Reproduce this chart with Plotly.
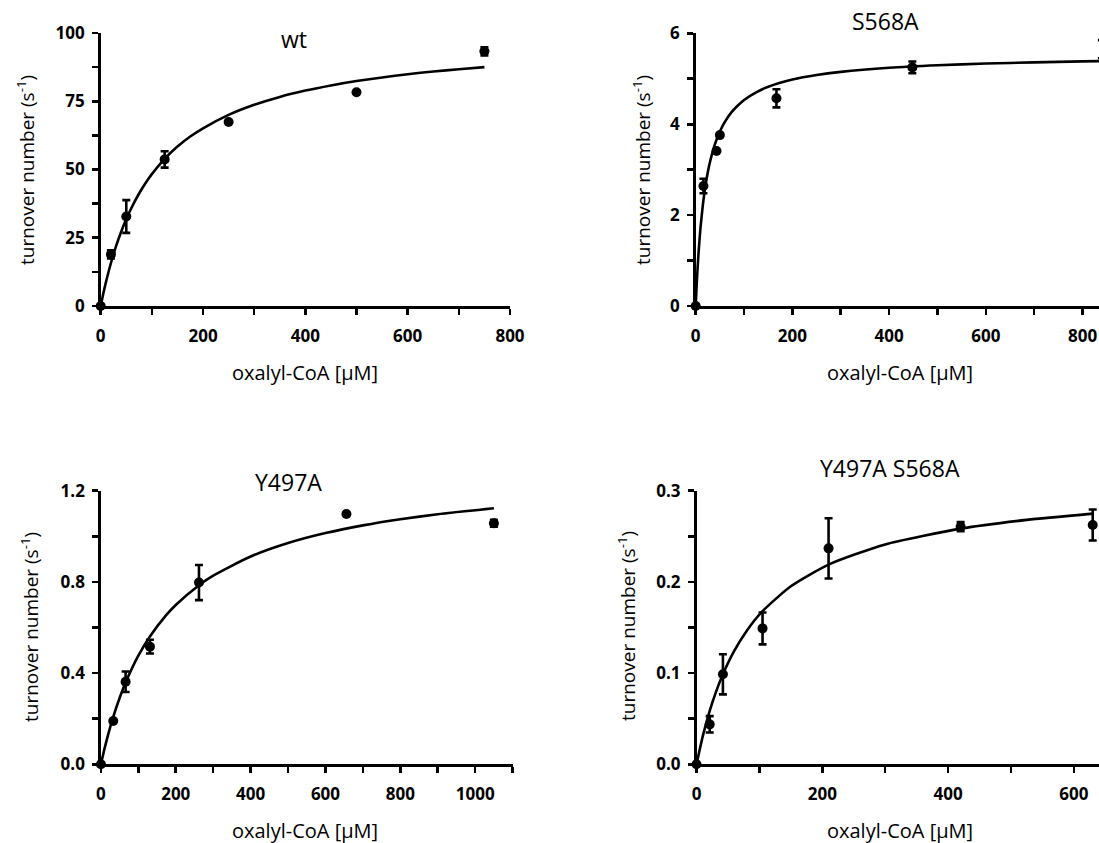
import plotly.graph_objects as go

OFF = 0  # body margin removed by the post script below
W, H = 1099, 843
FONT = "Open Sans"

# ---------------- data ----------------
wt_x = [0, 20, 50, 125, 250, 500, 750]
wt_y = [0, 18.9, 32.8, 53.7, 67.4, 78.3, 93.3]
wt_err = [0, 1.5, 6.0, 3.0, 0, 0, 1.5]
wt_fit_x = [0, 5, 10, 20, 30, 40, 50, 60, 75, 90, 100, 125, 150, 175, 200, 250,
            300, 350, 400, 450, 500, 550, 600, 650, 700, 750]
wt_fit_y = [0, 4.46, 8.55, 15.75, 21.9, 27.2, 31.85, 35.9, 41.2, 45.7, 48.3, 53.9,
            58.4, 62.1, 65.1, 70.0, 73.7, 76.6, 78.9, 80.8, 82.4, 83.7, 84.9,
            85.9, 86.7, 87.5]

s_x = [0, 16, 43, 50, 167, 448, 840]
s_y = [0, 2.64, 3.41, 3.76, 4.57, 5.25, 5.65]
s_err = [0, 0.16, 0, 0, 0.2, 0.13, 0.2]
s_fit_x = [0, 2, 4, 6, 8, 10, 15, 20, 25, 30, 40, 50, 60, 75, 100, 125, 150, 200,
           250, 300, 400, 500, 600, 700, 800, 840]
s_fit_y = [0, 0.461, 0.851, 1.185, 1.475, 1.728, 2.242, 2.633, 2.941, 3.19, 3.568,
           3.84, 4.046, 4.276, 4.533, 4.702, 4.823, 4.982, 5.083, 5.152, 5.242,
           5.297, 5.334, 5.361, 5.382, 5.389]

y_x = [0, 33, 66, 131, 262, 656, 1050]
y_y = [0, 0.19, 0.362, 0.516, 0.797, 1.098, 1.057]
y_err = [0, 0, 0.045, 0.03, 0.077, 0, 0.015]
y_fit_x = [0, 10, 20, 33, 50, 66, 100, 131, 175, 200, 262, 300, 400, 500, 600, 700,
           800, 900, 1050]
y_fit_y = [0, 0.0708, 0.1344, 0.2078, 0.291, 0.3588, 0.4764, 0.5608, 0.655, 0.6987,
           0.7854, 0.8274, 0.9113, 0.9704, 1.0142, 1.048, 1.0749, 1.0967, 1.1229]

d_x = [0, 21, 42, 105, 210, 420, 630]
d_y = [0, 0.0438, 0.0987, 0.149, 0.2368, 0.2605, 0.2624]
d_err = [0, 0.009, 0.022, 0.0175, 0.033, 0.005, 0.017]
d_fit_x = [0, 10, 21, 30, 42, 60, 80, 105, 150, 210, 300, 420, 525, 630]
d_fit_y = [0, 0.0309, 0.0585, 0.0775, 0.0987, 0.1243, 0.1465, 0.1679, 0.1952, 0.219,
           0.2411, 0.2584, 0.268, 0.2749]

titles = ["wt", "S568A", "Y497A", "Y497A S568A"]
x_title = "oxalyl-CoA [µM]"
y_title = "turnover number (s<sup>-1</sup>)"

# ---------------- layout geometry (window pixels) ----------------
panels = [
    dict(x=wt_x, y=wt_y, e=wt_err, fx=wt_fit_x, fy=wt_fit_y,
         px=(100.7, 510), py=(33, 306), xr=[0, 800], yr=[0, 100],
         xdt=200, ydt=25, title_xy=(294, 39), ytit_xy=(26, 170), xtit_xy=(305, 372)),
    dict(x=s_x, y=s_y, e=s_err, fx=s_fit_x, fy=s_fit_y,
         px=(695.7, 1099), py=(33.3, 306), xr=[0, 834], yr=[0, 6],
         xdt=200, ydt=2, title_xy=(885, 21), ytit_xy=(642, 170), xtit_xy=(900, 372)),
    dict(x=y_x, y=y_y, e=y_err, fx=y_fit_x, fy=y_fit_y,
         px=(100.9, 512.6), py=(490.7, 764.3), xr=[0, 1100], yr=[0, 1.2],
         xdt=200, ydt=0.4, title_xy=(288, 482), ytit_xy=(30, 627), xtit_xy=(305, 830)),
    dict(x=d_x, y=d_y, e=d_err, fx=d_fit_x, fy=d_fit_y,
         px=(696.5, 1099), py=(490.7, 764.3), xr=[0, 640], yr=[0, 0.3],
         xdt=200, ydt=0.1, title_xy=(890, 468), ytit_xy=(627, 626), xtit_xy=(900, 830)),
]


def fx(px):
    return (px - OFF) / W


def fy(py):
    return 1 - (py - OFF) / H


fig = go.Figure()
annotations = []
layout_axes = {}

for i, p in enumerate(panels):
    n = i + 1
    xa = "x" if n == 1 else f"x{n}"
    ya = "y" if n == 1 else f"y{n}"
    fig.add_trace(go.Scatter(
        x=p["fx"], y=p["fy"], mode="lines", xaxis=xa, yaxis=ya,
        line=dict(color="black", width=2.6, shape="spline", smoothing=0.6),
        hoverinfo="skip", showlegend=False))
    fig.add_trace(go.Scatter(
        x=p["x"], y=p["y"], mode="markers", xaxis=xa, yaxis=ya,
        marker=dict(color="black", size=10),
        error_y=dict(type="data", array=p["e"], visible=True, color="black",
                     thickness=2.6, width=4),
        cliponaxis=False, showlegend=False))

    common = dict(showline=True, linecolor="black", linewidth=2.6, ticks="outside",
                  ticklen=6, tickwidth=2.6, tickcolor="black", showgrid=False,
                  zeroline=False, automargin=False,
                  tickfont=dict(family=FONT, size=17, color="black", weight="bold"))
    x0, x1 = p["px"]
    y0, y1 = p["py"]
    layout_axes["xaxis" if n == 1 else f"xaxis{n}"] = dict(
        common, domain=[fx(x0), min(fx(x1), 1.0)], range=p["xr"], dtick=p["xdt"],
        tick0=0, anchor=ya, ticklabelstandoff=7,
        minor=dict(dtick=p["xdt"] / 2, ticklen=6, tickwidth=2.6, tickcolor="black",
                   ticks="outside", showgrid=False))
    layout_axes["yaxis" if n == 1 else f"yaxis{n}"] = dict(
        common, domain=[fy(y1), fy(y0)], range=p["yr"], dtick=p["ydt"],
        tick0=0, anchor=xa, ticklabelstandoff=4,
        tickformat=(".1f" if p["ydt"] < 1 else None),
        minor=dict(dtick=p["ydt"] / 2, ticklen=6, tickwidth=2.6, tickcolor="black",
                   ticks="outside", showgrid=False))

    tx, ty = p["title_xy"]
    annotations.append(dict(text=titles[i], x=fx(tx), y=fy(ty), xref="paper",
                            yref="paper", showarrow=False, xanchor="center",
                            yanchor="middle",
                            font=dict(family=FONT, size=23, color="black")))
    ax_, ay_ = p["ytit_xy"]
    annotations.append(dict(text=y_title, x=fx(ax_), y=fy(ay_), xref="paper",
                            yref="paper", showarrow=False, textangle=-90,
                            xanchor="center", yanchor="middle",
                            font=dict(family=FONT, size=19, color="black")))
    bx, by = p["xtit_xy"]
    annotations.append(dict(text=x_title, x=fx(bx), y=fy(by), xref="paper",
                            yref="paper", showarrow=False, xanchor="center",
                            yanchor="middle",
                            font=dict(family=FONT, size=20, color="black")))

fig.update_layout(
    width=W, height=H, margin=dict(l=0, r=0, t=0, b=0),
    paper_bgcolor="white", plot_bgcolor="white", hovermode=False,
    annotations=annotations, showlegend=False, **layout_axes)

fig.write_html(
    "out.html",
    config={"displayModeBar": False, "staticPlot": True},
    post_script=("document.documentElement.style.margin='0';"
                 "document.body.style.margin='0';"
                 "document.documentElement.style.overflow='hidden';"
                 "document.body.style.overflow='hidden';"))
